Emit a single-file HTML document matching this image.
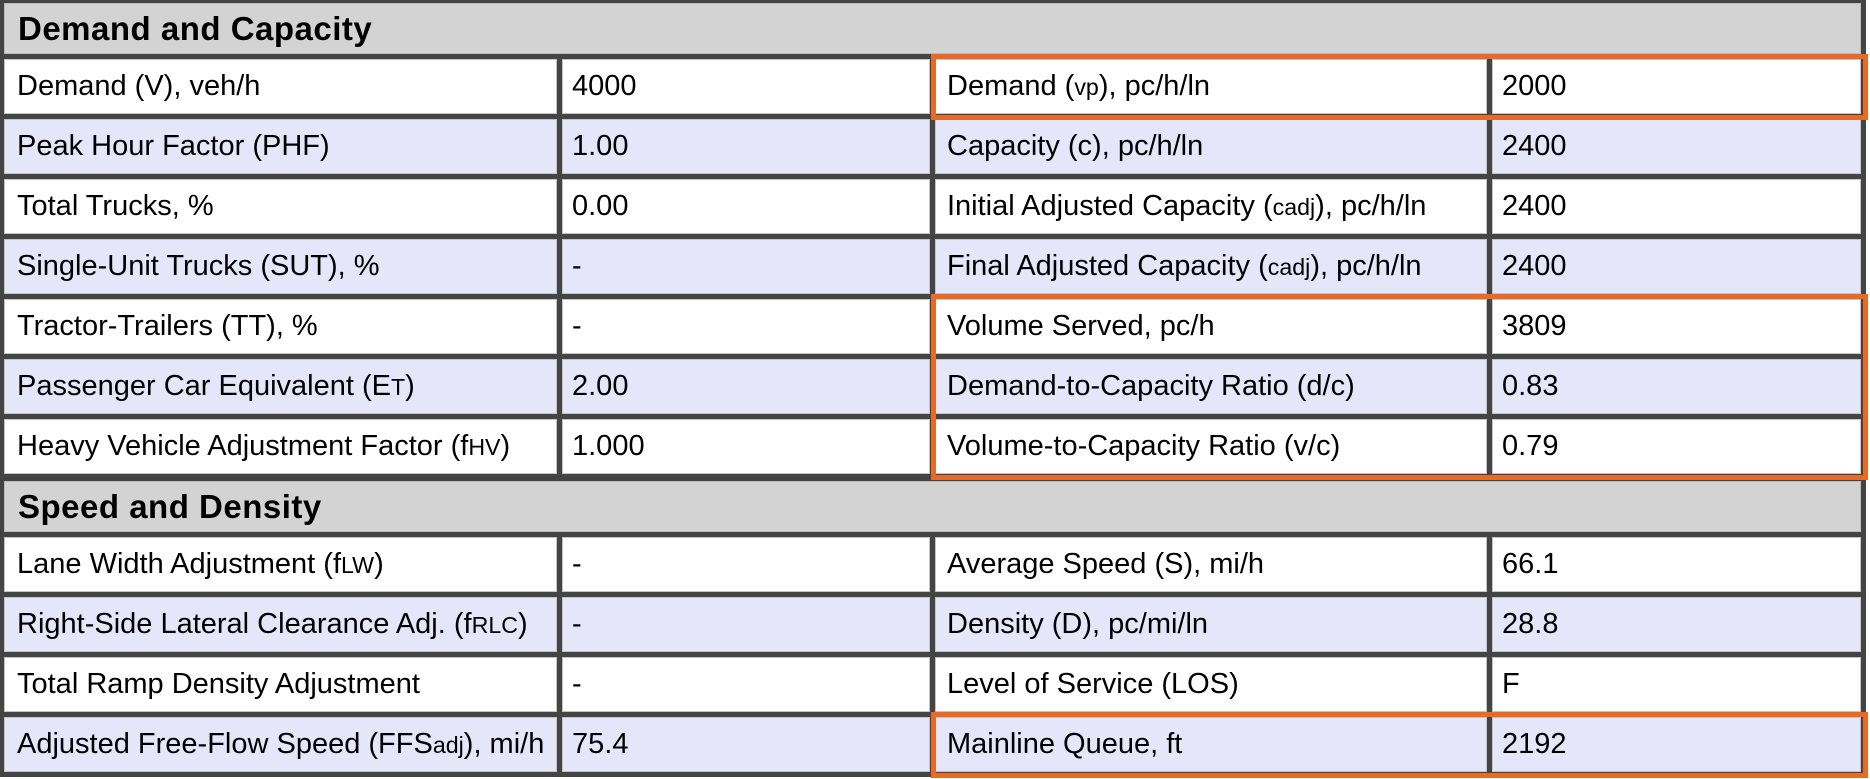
<!DOCTYPE html>
<html>
<head>
<meta charset="utf-8">
<style>
  html, body { margin:0; padding:0; background:#ffffff; }
  body { width:1870px; height:779px; position:relative; overflow:hidden;
         font-family:"Liberation Sans", Arial, sans-serif; color:#000; }
  .bg { position:absolute; left:0; top:0; width:1866px; height:777px; background:#444; }
  .c { position:absolute; box-sizing:border-box; height:55px; line-height:55px;
       font-size:29px; white-space:nowrap; overflow:hidden;
       box-shadow: inset 0 0 0 1px #c4c4c4; }
  .w { background:#ffffff; }
  .l { background:#e6e6fa; }
  .c1 { left:4px; width:553px; padding-left:13px; }
  .c2 { left:562px; width:368px; padding-left:10px; }
  .c3 { left:935px; width:552px; padding-left:12px; }
  .c4 { left:1492px; width:369px; padding-left:10px; }
  .h { position:absolute; left:4px; width:1857px; height:51px; line-height:52px;
       background:#d3d3d3; font-weight:bold; font-size:33px; letter-spacing:0.5px;
       padding-left:14px; box-sizing:border-box; color:#000;
       box-shadow: inset 0 0 0 1px #bcbcbc; }
  .s { font-size:80%; }
  .o { position:absolute; left:931px; width:937px; box-sizing:border-box;
       border:5px solid #e96a24; }
</style>
</head>
<body>
<div class="bg"></div>

<div class="h" style="top:3px;">Demand and Capacity</div>

<!-- Section 1 rows -->
<div class="c c1 w" style="top:59px;">Demand (V), veh/h</div>
<div class="c c2 w" style="top:59px;">4000</div>
<div class="c c3 w" style="top:59px;">Demand (<span class="s">vp</span>), pc/h/ln</div>
<div class="c c4 w" style="top:59px;">2000</div>

<div class="c c1 l" style="top:119px;">Peak Hour Factor (PHF)</div>
<div class="c c2 l" style="top:119px;">1.00</div>
<div class="c c3 l" style="top:119px;">Capacity (c), pc/h/ln</div>
<div class="c c4 l" style="top:119px;">2400</div>

<div class="c c1 w" style="top:179px;">Total Trucks, %</div>
<div class="c c2 w" style="top:179px;">0.00</div>
<div class="c c3 w" style="top:179px;">Initial Adjusted Capacity (<span class="s">cadj</span>), pc/h/ln</div>
<div class="c c4 w" style="top:179px;">2400</div>

<div class="c c1 l" style="top:239px;">Single-Unit Trucks (SUT), %</div>
<div class="c c2 l" style="top:239px;">-</div>
<div class="c c3 l" style="top:239px;">Final Adjusted Capacity (<span class="s">cadj</span>), pc/h/ln</div>
<div class="c c4 l" style="top:239px;">2400</div>

<div class="c c1 w" style="top:299px;">Tractor-Trailers (TT), %</div>
<div class="c c2 w" style="top:299px;">-</div>
<div class="c c3 w" style="top:299px;">Volume Served, pc/h</div>
<div class="c c4 w" style="top:299px;">3809</div>

<div class="c c1 l" style="top:359px;">Passenger Car Equivalent (E<span class="s">T</span>)</div>
<div class="c c2 l" style="top:359px;">2.00</div>
<div class="c c3 l" style="top:359px;">Demand-to-Capacity Ratio (d/c)</div>
<div class="c c4 l" style="top:359px;">0.83</div>

<div class="c c1 w" style="top:419px;">Heavy Vehicle Adjustment Factor (f<span class="s">HV</span>)</div>
<div class="c c2 w" style="top:419px;">1.000</div>
<div class="c c3 w" style="top:419px;">Volume-to-Capacity Ratio (v/c)</div>
<div class="c c4 w" style="top:419px;">0.79</div>

<div class="h" style="top:481px;">Speed and Density</div>

<!-- Section 2 rows -->
<div class="c c1 w" style="top:537px;">Lane Width Adjustment (f<span class="s">LW</span>)</div>
<div class="c c2 w" style="top:537px;">-</div>
<div class="c c3 w" style="top:537px;">Average Speed (S), mi/h</div>
<div class="c c4 w" style="top:537px;">66.1</div>

<div class="c c1 l" style="top:597px;">Right-Side Lateral Clearance Adj. (f<span class="s">RLC</span>)</div>
<div class="c c2 l" style="top:597px;">-</div>
<div class="c c3 l" style="top:597px;">Density (D), pc/mi/ln</div>
<div class="c c4 l" style="top:597px;">28.8</div>

<div class="c c1 w" style="top:657px;">Total Ramp Density Adjustment</div>
<div class="c c2 w" style="top:657px;">-</div>
<div class="c c3 w" style="top:657px;">Level of Service (LOS)</div>
<div class="c c4 w" style="top:657px;">F</div>

<div class="c c1 l" style="top:717px;">Adjusted Free-Flow Speed (FFS<span class="s">adj</span>), mi/h</div>
<div class="c c2 l" style="top:717px;">75.4</div>
<div class="c c3 l" style="top:717px;">Mainline Queue, ft</div>
<div class="c c4 l" style="top:717px;">2192</div>

<!-- Orange highlight boxes -->
<div class="o" style="top:54px; height:66px;"></div>
<div class="o" style="top:294px; height:186px;"></div>
<div class="o" style="top:712px; height:66px;"></div>
</body>
</html>
